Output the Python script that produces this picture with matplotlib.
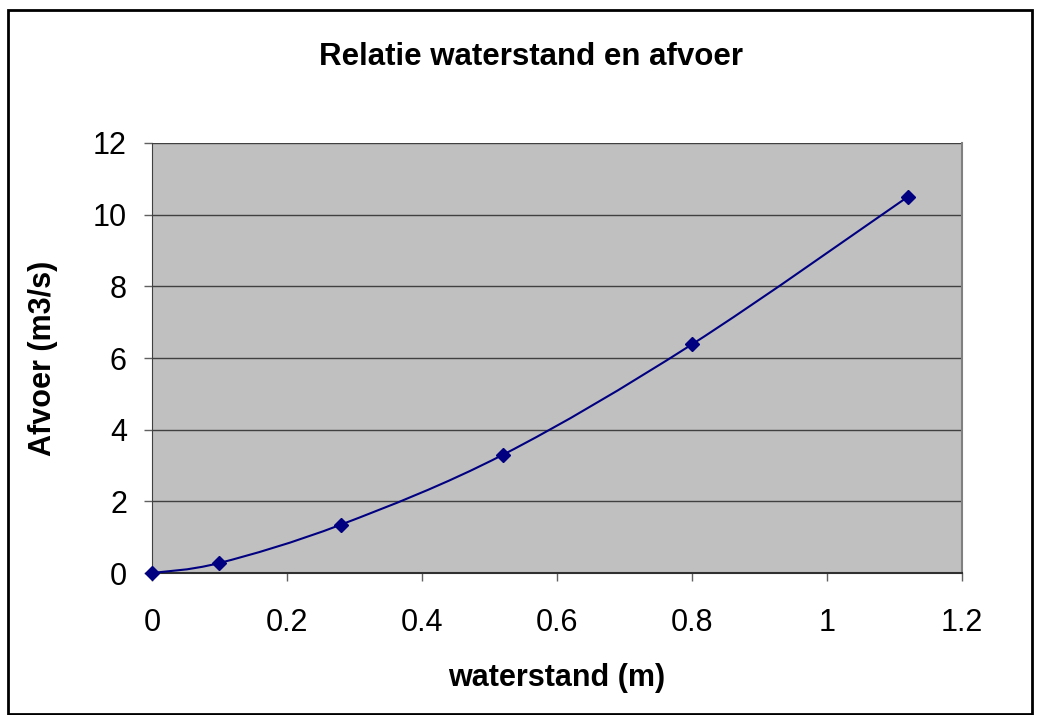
import matplotlib
matplotlib.use("Agg")
import matplotlib.pyplot as plt
from matplotlib.path import Path
from matplotlib.patches import PathPatch, Rectangle
import numpy as np

# measured points (waterstand in m, afvoer in m3/s)
waterstand = [0.0, 0.1, 0.28, 0.52, 0.8, 1.12]
afvoer = [0.0, 0.28, 1.35, 3.3, 6.38, 10.5]
xticks = [0, 0.2, 0.4, 0.6, 0.8, 1, 1.2]
xticklabels = ["0", "0.2", "0.4", "0.6", "0.8", "1", "1.2"]
yticks = [0, 2, 4, 6, 8, 10, 12]

plt.rcParams['font.family'] = ['Liberation Sans', 'DejaVu Sans']

fig = plt.figure(figsize=(10.41, 7.15), dpi=100)
ax = fig.add_axes([0.146, 0.1986, 0.778, 0.6014])
ax.set_facecolor('#c0c0c0')

# figure border
fig.patches.append(Rectangle((8 / 1041, 0.002), 1024 / 1041, 1 - 10 / 715 - 0.002,
                             transform=fig.transFigure, fill=False,
                             edgecolor='black', linewidth=2))

# smoothed line like excel: bezier segments through the points
pts = np.column_stack([waterstand, afvoer])
ext = np.vstack([pts[0], pts, pts[-1]])
verts = [tuple(pts[0])]
codes = [Path.MOVETO]
for i in range(len(pts) - 1):
    p0, p1, p2, p3 = ext[i], ext[i + 1], ext[i + 2], ext[i + 3]
    c1 = p1 + (p2 - p0) / 6
    c2 = p2 - (p3 - p1) / 6
    verts += [tuple(c1), tuple(c2), tuple(p2)]
    codes += [Path.CURVE4] * 3
ax.add_patch(PathPatch(Path(verts, codes), fill=False, edgecolor='#000080',
                       linewidth=1.5, zorder=3))
ax.plot(waterstand, afvoer, linestyle='none', marker='D', markersize=7,
        color='#000080', zorder=4, clip_on=False)

ax.set_xlim(0, 1.2)
ax.set_ylim(0, 12)
ax.set_xticks(xticks)
ax.set_xticklabels(xticklabels)
ax.set_yticks(yticks)
ax.yaxis.grid(True, color='#404040', linewidth=1)
ax.set_axisbelow(True)

ax.spines['top'].set_visible(False)
ax.spines['right'].set_color('#808080')
ax.spines['right'].set_linewidth(1.5)
ax.spines['left'].set_color('#404040')
ax.spines['bottom'].set_color('#303030')
ax.spines['bottom'].set_linewidth(1.5)

ax.tick_params(axis='both', direction='out', length=6, width=1, color='#606060',
               labelsize=22)
ax.tick_params(axis='x', pad=19)
ax.tick_params(axis='y', pad=12)

ax.set_xlabel("waterstand (m)", fontsize=22, fontweight='bold', labelpad=18)
ax.set_ylabel("Afvoer (m3/s)", fontsize=22, fontweight='bold', labelpad=25)
fig.text(0.51, 0.92, "Relatie waterstand en afvoer", ha='center', va='center',
         fontsize=22.5, fontweight='bold')

fig.savefig("out.png", dpi=100)
